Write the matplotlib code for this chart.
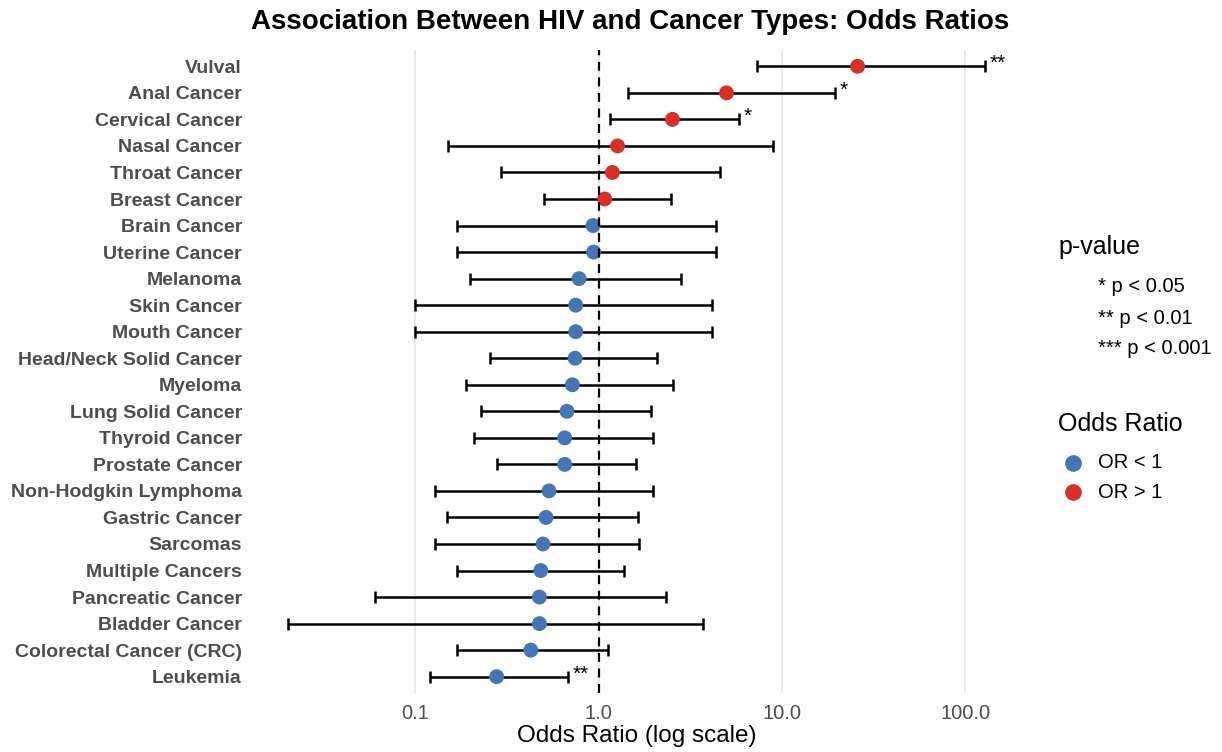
import numpy as np
import matplotlib
matplotlib.use("Agg")
import matplotlib.pyplot as plt
from matplotlib.lines import Line2D

plt.rcParams['font.family'] = ['Liberation Sans', 'DejaVu Sans']

# data, top row first
cancers = ["Vulval", "Anal Cancer", "Cervical Cancer", "Nasal Cancer", "Throat Cancer",
           "Breast Cancer", "Brain Cancer", "Uterine Cancer", "Melanoma", "Skin Cancer",
           "Mouth Cancer", "Head/Neck Solid Cancer", "Myeloma", "Lung Solid Cancer",
           "Thyroid Cancer", "Prostate Cancer", "Non-Hodgkin Lymphoma", "Gastric Cancer",
           "Sarcomas", "Multiple Cancers", "Pancreatic Cancer", "Bladder Cancer",
           "Colorectal Cancer (CRC)", "Leukemia"]
odds = [25.9, 4.99, 2.53, 1.27, 1.19, 1.08, 0.933, 0.94, 0.783, 0.751, 0.751, 0.745,
        0.72, 0.673, 0.654, 0.654, 0.537, 0.517, 0.498, 0.484, 0.476, 0.476, 0.427, 0.278]
ci_low = [7.28, 1.44, 1.155, 0.151, 0.292, 0.501, 0.169, 0.169, 0.199, 0.1, 0.1, 0.257,
          0.189, 0.228, 0.208, 0.278, 0.129, 0.150, 0.129, 0.169, 0.060, 0.0202, 0.169, 0.120]
ci_high = [128.5, 19.4, 5.84, 8.9, 4.6, 2.5, 4.4, 4.4, 2.8, 4.18, 4.18, 2.09, 2.55, 1.94,
           1.98, 1.61, 1.98, 1.64, 1.66, 1.37, 2.33, 3.72, 1.12, 0.685]
signif = ["**", "*", "*", "", "", "", "", "", "", "", "", "", "", "", "", "", "", "", "",
          "", "", "", "", "**"]

red = "#D73027"
blue = "#4575B4"
grey = "#4D4D4D"

W, H = 1222, 752
fig = plt.figure(figsize=(W / 100, H / 100), dpi=100)
ax = fig.add_axes([253 / W, 1 - 692.6 / H, (1020 - 253) / W, (692.6 - 50.4) / H])

n = len(cancers)
y = np.arange(n)[::-1]
odds = np.array(odds)
lo = np.array(ci_low)
hi = np.array(ci_high)

ax.errorbar(odds, y, xerr=[odds - lo, hi - odds], fmt="none", ecolor="black",
            elinewidth=1.8, capsize=4, capthick=1.8, zorder=2)
colors = [red if v > 1 else blue for v in odds]
ax.scatter(odds, y, s=115, c=colors, zorder=3, edgecolors="none")
ax.axvline(1, color="black", linestyle=(0, (4, 3)), linewidth=1.6, zorder=4)

for yi, h, s in zip(y, hi, signif):
    if s:
        ax.text(h * 1.06, yi + 0.1, s, fontsize=15, ha="left", va="center")

ax.set_xscale("log")
lmin, lmax = np.log10(lo.min()), np.log10(hi.max())
pad = 0.05 * (lmax - lmin)
ax.set_xlim(10 ** (lmin - pad), 10 ** (lmax + pad))
ax.set_ylim(-0.6, n - 0.4)
ax.set_xticks([0.1, 1, 10, 100])
ax.set_xticklabels(["0.1", "1.0", "10.0", "100.0"])
ax.xaxis.set_minor_locator(matplotlib.ticker.NullLocator())
ax.set_yticks(y)
ax.set_yticklabels(cancers, fontweight="bold", fontsize=14, color=grey)
ax.tick_params(axis="both", length=0)
ax.tick_params(axis="x", labelsize=14.5, labelcolor=grey, pad=8)
ax.tick_params(axis="y", pad=8)
ax.grid(axis="x", color="#E5E5E5", linewidth=1.2)
ax.grid(axis="y", visible=False)
ax.set_axisbelow(True)
for sp in ax.spines.values():
    sp.set_visible(False)
ax.set_xlabel("Odds Ratio (log scale)", fontsize=17.5, labelpad=2)

fig.text(630 / W, 1 - 22 / H, "Association Between HIV and Cancer Types: Odds Ratios",
         fontsize=20, fontweight="bold", ha="center", va="center")

# p-value legend
fig.text(1058 / W, 1 - 247 / H, "p-value", fontsize=18, va="center")
for yy, lab in zip([287, 318, 348], ["* p < 0.05", "** p < 0.01", "*** p < 0.001"]):
    fig.text(1098 / W, 1 - yy / H, lab, fontsize=14.5, va="center")

# odds ratio legend
fig.text(1058 / W, 1 - 424 / H, "Odds Ratio", fontsize=18, va="center")
for yy, col, lab in zip([463, 492], [blue, red], ["OR < 1", "OR > 1"]):
    fig.add_artist(Line2D([1073 / W], [1 - yy / H], marker="o", markersize=11,
                          color=col, linestyle="none", transform=fig.transFigure))
    fig.text(1098 / W, 1 - yy / H, lab, fontsize=14.5, va="center")

fig.savefig("out.png", dpi=100)
